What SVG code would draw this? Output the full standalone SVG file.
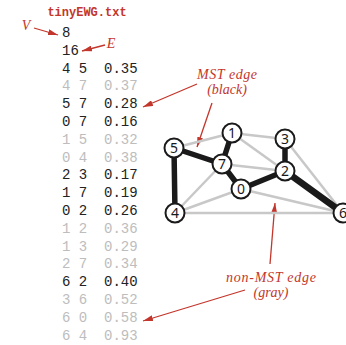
<svg xmlns="http://www.w3.org/2000/svg" width="346" height="345" viewBox="0 0 346 345">
  <style>
    .title { font-family: "Liberation Mono", monospace; font-weight: bold; font-size: 12px; fill: #c3362b; }
    .row { font-family: "Liberation Mono", monospace; font-size: 14px; white-space: pre; }
    .on { fill: #222; }
    .off { fill: #bdbdbd; }
    .note { font-family: "Liberation Serif", serif; font-style: italic; font-size: 14px; fill: #c3362b; }
    .gray { stroke: #c8c8c8; stroke-width: 2.5; }
    .mst { stroke: #1a1a1a; stroke-width: 5.5; stroke-linecap: round; }
    .ptr { stroke: #c3362b; stroke-width: 1.3; fill: none; marker-end: url(#head); }
    .node circle { fill: #fff; stroke: #1a1a1a; stroke-width: 2; }
    .node text { font-family: "Noto Sans", "Liberation Sans", sans-serif; font-size: 14px; fill: #1a1a1a; text-anchor: middle; }
  </style>
  <defs>
    <marker id="head" viewBox="0 0 10 6" refX="10" refY="3" markerWidth="10" markerHeight="6" markerUnits="userSpaceOnUse" orient="auto">
      <path d="M0,0 L10,3 L0,6 Z" fill="#c3362b"/>
    </marker>
  </defs>

  <!-- file listing -->
  <text class="title" x="87" y="16" text-anchor="middle">tinyEWG.txt</text>
  <g id="listing">
    <text class="row on" x="62" y="37">8</text>
    <text class="row on" x="62" y="54.8">16</text>
    <text class="row on" x="62" y="72.6">4 5  0.35</text>
    <text class="row off" x="62" y="90.4">4 7  0.37</text>
    <text class="row on" x="62" y="108.2">5 7  0.28</text>
    <text class="row on" x="62" y="126">0 7  0.16</text>
    <text class="row off" x="62" y="143.8">1 5  0.32</text>
    <text class="row off" x="62" y="161.6">0 4  0.38</text>
    <text class="row on" x="62" y="179.4">2 3  0.17</text>
    <text class="row on" x="62" y="197.2">1 7  0.19</text>
    <text class="row on" x="62" y="215">0 2  0.26</text>
    <text class="row off" x="62" y="232.8">1 2  0.36</text>
    <text class="row off" x="62" y="250.6">1 3  0.29</text>
    <text class="row off" x="62" y="268.4">2 7  0.34</text>
    <text class="row on" x="62" y="286.2">6 2  0.40</text>
    <text class="row off" x="62" y="304">3 6  0.52</text>
    <text class="row off" x="62" y="321.8">6 0  0.58</text>
    <text class="row off" x="62" y="339.6">6 4  0.93</text>
  </g>

  <!-- annotations -->
  <g id="notes">
    <text class="note" x="26" y="30" text-anchor="middle">V</text>
    <line class="ptr" x1="34" y1="28" x2="58" y2="35"/>
    <text class="note" x="111" y="48" text-anchor="middle">E</text>
    <line class="ptr" x1="105" y1="45" x2="82" y2="51"/>
    <text class="note" x="227" y="78.5" text-anchor="middle" textLength="60">MST edge</text>
    <text class="note" x="227" y="94.2" text-anchor="middle">(black)</text>
    <line class="ptr" x1="197" y1="84" x2="143" y2="107"/>
    <line class="ptr" x1="212" y1="103" x2="197" y2="147"/>
    <text class="note" x="271" y="281.5" text-anchor="middle" textLength="90">non-MST edge</text>
    <text class="note" x="271" y="297.2" text-anchor="middle">(gray)</text>
    <line class="ptr" x1="270" y1="264" x2="275" y2="203"/>
    <line class="ptr" x1="245" y1="290" x2="143" y2="321"/>
  </g>

  <!-- connectors -->
  <g id="edges">
    <line class="gray" x1="175" y1="213" x2="222" y2="164"/>
    <line class="gray" x1="232" y1="133" x2="174" y2="148"/>
    <line class="gray" x1="241" y1="189" x2="175" y2="213"/>
    <line class="gray" x1="232" y1="133" x2="285" y2="171"/>
    <line class="gray" x1="232" y1="133" x2="285" y2="139"/>
    <line class="gray" x1="285" y1="171" x2="222" y2="164"/>
    <line class="gray" x1="285" y1="139" x2="343" y2="213"/>
    <line class="gray" x1="343" y1="213" x2="241" y2="189"/>
    <line class="gray" x1="343" y1="213" x2="175" y2="213"/>
    <line class="mst" x1="175" y1="213" x2="174" y2="148"/>
    <line class="mst" x1="174" y1="148" x2="222" y2="164"/>
    <line class="mst" x1="241" y1="189" x2="222" y2="164"/>
    <line class="mst" x1="285" y1="171" x2="285" y2="139"/>
    <line class="mst" x1="232" y1="133" x2="222" y2="164"/>
    <line class="mst" x1="241" y1="189" x2="285" y2="171"/>
    <line class="mst" x1="343" y1="213" x2="285" y2="171" style="stroke-width:6.5"/>
  </g>

  <!-- vertices -->
  <g id="v0" class="node"><circle cx="241" cy="189" r="9.5"/><text x="241" y="194">0</text></g>
  <g id="v1" class="node"><circle cx="232" cy="133" r="9.5"/><text x="232" y="138">1</text></g>
  <g id="v2" class="node"><circle cx="285" cy="171" r="9.5"/><text x="285" y="176">2</text></g>
  <g id="v3" class="node"><circle cx="285" cy="139" r="9.5"/><text x="285" y="144">3</text></g>
  <g id="v4" class="node"><circle cx="175" cy="213" r="9.5"/><text x="175" y="218">4</text></g>
  <g id="v5" class="node"><circle cx="174" cy="148" r="9.5"/><text x="174" y="153">5</text></g>
  <g id="v6" class="node"><circle cx="343" cy="213" r="9.5"/><text x="343" y="218">6</text></g>
  <g id="v7" class="node"><circle cx="222" cy="164" r="9.5"/><text x="222" y="169">7</text></g>
</svg>
